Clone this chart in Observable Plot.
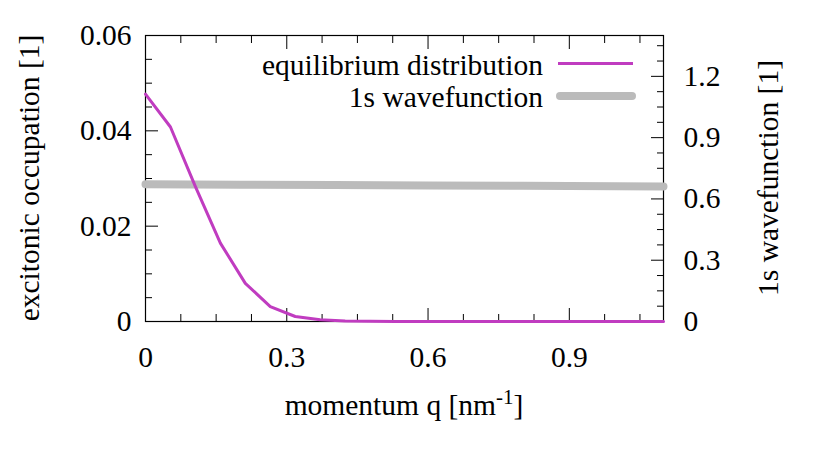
<!DOCTYPE html>
<html>
<head>
<meta charset="utf-8">
<script src="https://cdn.jsdelivr.net/npm/d3@7"></script>
<script src="https://cdn.jsdelivr.net/npm/@observablehq/plot@0.6"></script>
<style>
  html, body { margin: 0; padding: 0; background: #fff; }
  #chart svg { display: block; }
</style>
</head>
<body>
<div id="chart"></div>
<script>
// ---- data ----
const qEq = [0, 0.053, 0.106, 0.159, 0.212, 0.265, 0.318, 0.371, 0.424, 0.477, 0.530, 0.583, 0.636, 0.689, 0.742, 0.795, 0.848, 0.901, 0.954, 1.007, 1.060, 1.100];
const equilibrium = [0.0477, 0.0408, 0.0283, 0.01645, 0.0080, 0.00314, 0.00105, 0.00036, 0.0001, 0.00003, 0.00001, 0, 0, 0, 0, 0, 0, 0, 0, 0, 0, 0];
const qWave = [0, 0.2, 0.4, 0.6, 0.8, 1.0, 1.1];
const wavefunction = [0.672, 0.670, 0.668, 0.666, 0.664, 0.662, 0.661];

const xTicks = [0, 0.3, 0.6, 0.9];
const xMinor = [0.075, 0.15, 0.225, 0.375, 0.45, 0.525, 0.675, 0.75, 0.825, 0.975, 1.05];
const yTicks = [0, 0.02, 0.04, 0.06];
const yMinor = [0.005, 0.01, 0.015, 0.025, 0.03, 0.035, 0.045, 0.05, 0.055];
const y2Ticks = [0, 0.3, 0.6, 0.9, 1.2];
const y2Minor = [0.075, 0.15, 0.225, 0.375, 0.45, 0.525, 0.675, 0.75, 0.825, 0.975, 1.05, 1.125, 1.275, 1.35];

const xLabel = "momentum q [nm";
const yLabel = "excitonic occupation [1]";
const y2Label = "1s wavefunction [1]";
const seriesNames = ["equilibrium distribution", "1s wavefunction"];

const purple = "#c03cc0";
const gray = "#bbbbbb";

const yMax = 0.06, y2Max = 1.4;
const k = yMax / y2Max;

const eqData = qEq.map((q, i) => ({q, v: equilibrium[i]}));
const wvData = qWave.map((q, i) => ({q, v: wavefunction[i] * k}));

const fmt = d => d === 0 ? "0" : String(+d.toFixed(2));
const FS = 29.5;

const chart = Plot.plot({
  width: 830,
  height: 461,
  marginLeft: 145,
  marginRight: 167,
  marginTop: 35,
  marginBottom: 140,
  style: {fontFamily: "'Liberation Serif', 'Times New Roman', serif", fontSize: FS + "px", background: "#fff", color: "#000"},
  x: {domain: [0, 1.1]},
  y: {domain: [0, yMax]},
  marks: [
    // x axis bottom
    Plot.axisX({anchor: "bottom", ticks: xTicks, tickSize: 0, tickPadding: 25, tickFormat: fmt, label: null}),
    Plot.axisX({anchor: "bottom", ticks: xTicks, tickSize: -13, fill: null, label: null}),
    Plot.axisX({anchor: "bottom", ticks: xMinor, tickSize: -7, fill: null, label: null}),
    Plot.axisX({anchor: "top", ticks: xTicks, tickSize: -13, fill: null, label: null}),
    Plot.axisX({anchor: "top", ticks: xMinor, tickSize: -7, fill: null, label: null}),
    // left y axis
    Plot.axisY({anchor: "left", ticks: yTicks, tickSize: 0, tickPadding: 14, tickFormat: fmt, label: null}),
    Plot.axisY({anchor: "left", ticks: yTicks, tickSize: -13, fill: null, label: null}),
    Plot.axisY({anchor: "left", ticks: yMinor, tickSize: -7, fill: null, label: null}),
    // right y axis (1s wavefunction)
    Plot.axisY({anchor: "right", ticks: y2Ticks.map(v => v * k), tickSize: 0, tickPadding: 20, tickFormat: d => fmt(d / k), label: null}),
    Plot.axisY({anchor: "right", ticks: y2Ticks.map(v => v * k), tickSize: -13, fill: null, label: null}),
    Plot.axisY({anchor: "right", ticks: y2Minor.map(v => v * k), tickSize: -7, fill: null, label: null}),
    Plot.frame({stroke: "#000", strokeWidth: 1.2}),
    Plot.line(wvData, {x: "q", y: "v", stroke: gray, strokeWidth: 8, strokeLinecap: "round"}),
    Plot.line(eqData, {x: "q", y: "v", stroke: purple, strokeWidth: 3})
  ]
});

document.getElementById("chart").appendChild(chart);

const svg = d3.select(chart);
const font = "'Liberation Serif', 'Times New Roman', serif";

// axis titles
const xl = svg.append("text")
  .attr("x", 404).attr("y", 415)
  .attr("text-anchor", "middle")
  .attr("font-family", font).attr("font-size", FS).attr("fill", "#000");
xl.append("tspan").text(xLabel);
xl.append("tspan").attr("dy", -11).attr("font-size", 21).text("-1");
xl.append("tspan").attr("dy", 11).text("]");

svg.append("text")
  .attr("transform", "translate(39,178) rotate(-90)")
  .attr("text-anchor", "middle")
  .attr("font-family", font).attr("font-size", FS).attr("fill", "#000")
  .text(yLabel);

svg.append("text")
  .attr("transform", "translate(778,178) rotate(-90)")
  .attr("text-anchor", "middle")
  .attr("font-family", font).attr("font-size", FS).attr("fill", "#000")
  .text(y2Label);

// legend
const leg = svg.append("g").attr("font-family", font).attr("font-size", FS).attr("fill", "#000");
leg.append("text").attr("x", 543).attr("y", 75).attr("text-anchor", "end").text(seriesNames[0]);
leg.append("line").attr("x1", 558).attr("x2", 633).attr("y1", 63.5).attr("y2", 63.5)
  .attr("stroke", purple).attr("stroke-width", 3);
leg.append("text").attr("x", 543).attr("y", 107).attr("text-anchor", "end").text(seriesNames[1]);
leg.append("line").attr("x1", 560).attr("x2", 632).attr("y1", 96).attr("y2", 96)
  .attr("stroke", gray).attr("stroke-width", 8).attr("stroke-linecap", "round");
</script>
</body>
</html>
